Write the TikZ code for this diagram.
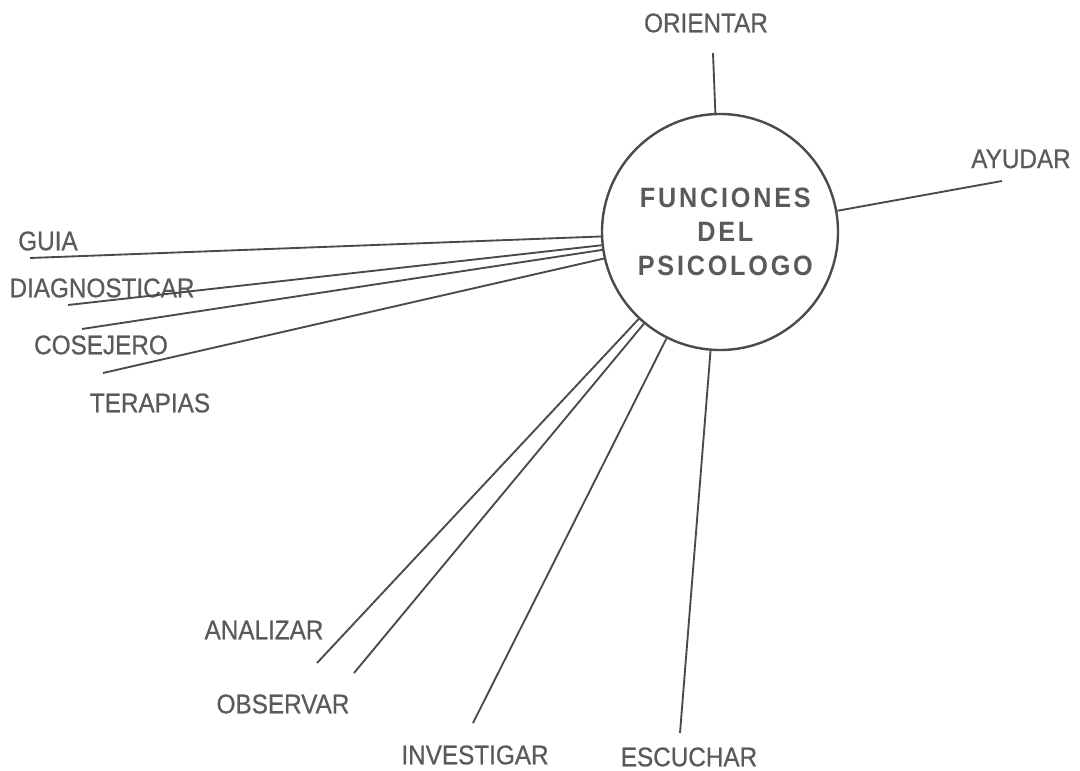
\documentclass[tikz,border=0pt]{standalone}
\usepackage{fontspec}
\setmainfont{Liberation Sans}
\newfontfamily\labelfont[FakeStretch=0.9,FakeBold=0.6]{Liberation Sans}
\newfontfamily\titlefont[FakeStretch=0.9,LetterSpace=10]{Liberation Sans}
\definecolor{ink}{HTML}{5A5A5A}
\definecolor{pen}{HTML}{4A4A4A}

\begin{document}
\begin{tikzpicture}[
    x=0.75pt, y=-0.75pt,
    func/.style={circle, draw=pen, line width=1.8pt, minimum size=177pt, inner sep=0pt, align=center, text=ink, font=\titlefont\bfseries\fontsize{21}{25.5}\selectfont},
    word/.style={text=ink, inner sep=0pt, font=\labelfont\fontsize{20.25}{22}\selectfont},
    link/.style={pen, line width=1.4pt}
]
\useasboundingbox (0,0) rectangle (1080,770);

\node[func] (psic) at (720,232) {\hspace*{8pt}FUNCIONES\\\hspace*{8pt}DEL\\\hspace*{8pt}PSICOLOGO};

\node[word] (orientar) at (706,23) {ORIENTAR};
\node[word] (ayudar) at (1021,159) {AYUDAR};
\node[word] (guia) at (48,241) {GUIA};
\node[word] (diag) at (102,288) {DIAGNOSTICAR};
\node[word] (cosejero) at (101,345) {COSEJERO};
\node[word] (terapias) at (150,403) {TERAPIAS};
\node[word] (analizar) at (264,630) {ANALIZAR};
\node[word] (observar) at (283,704) {OBSERVAR};
\node[word] (investigar) at (475,755) {INVESTIGAR};
\node[word] (escuchar) at (689,757) {ESCUCHAR};

% free ends of the rays
\coordinate (eOri) at (713,53);
\coordinate (eAyu) at (1002,181);
\coordinate (eGuia) at (30,258);
\coordinate (eDiag) at (68,305);
\coordinate (eCose) at (82,329);
\coordinate (eTera) at (103,373);
\coordinate (eAnal) at (317,663);
\coordinate (eObse) at (354,673);
\coordinate (eInve) at (473,723);
\coordinate (eEscu) at (680,733);

\draw[link] (psic) -- (eOri);
\draw[link] (psic) -- (eAyu);
\draw[link] (psic) -- (eGuia);
\draw[link] (psic) -- (eDiag);
\draw[link] (psic) -- (eCose);
\draw[link] (psic) -- (eTera);
\draw[link] (psic) -- (eAnal);
\draw[link] (psic) -- (eObse);
\draw[link] (psic) -- (eInve);
\draw[link] (psic) -- (eEscu);
\end{tikzpicture}
\end{document}
